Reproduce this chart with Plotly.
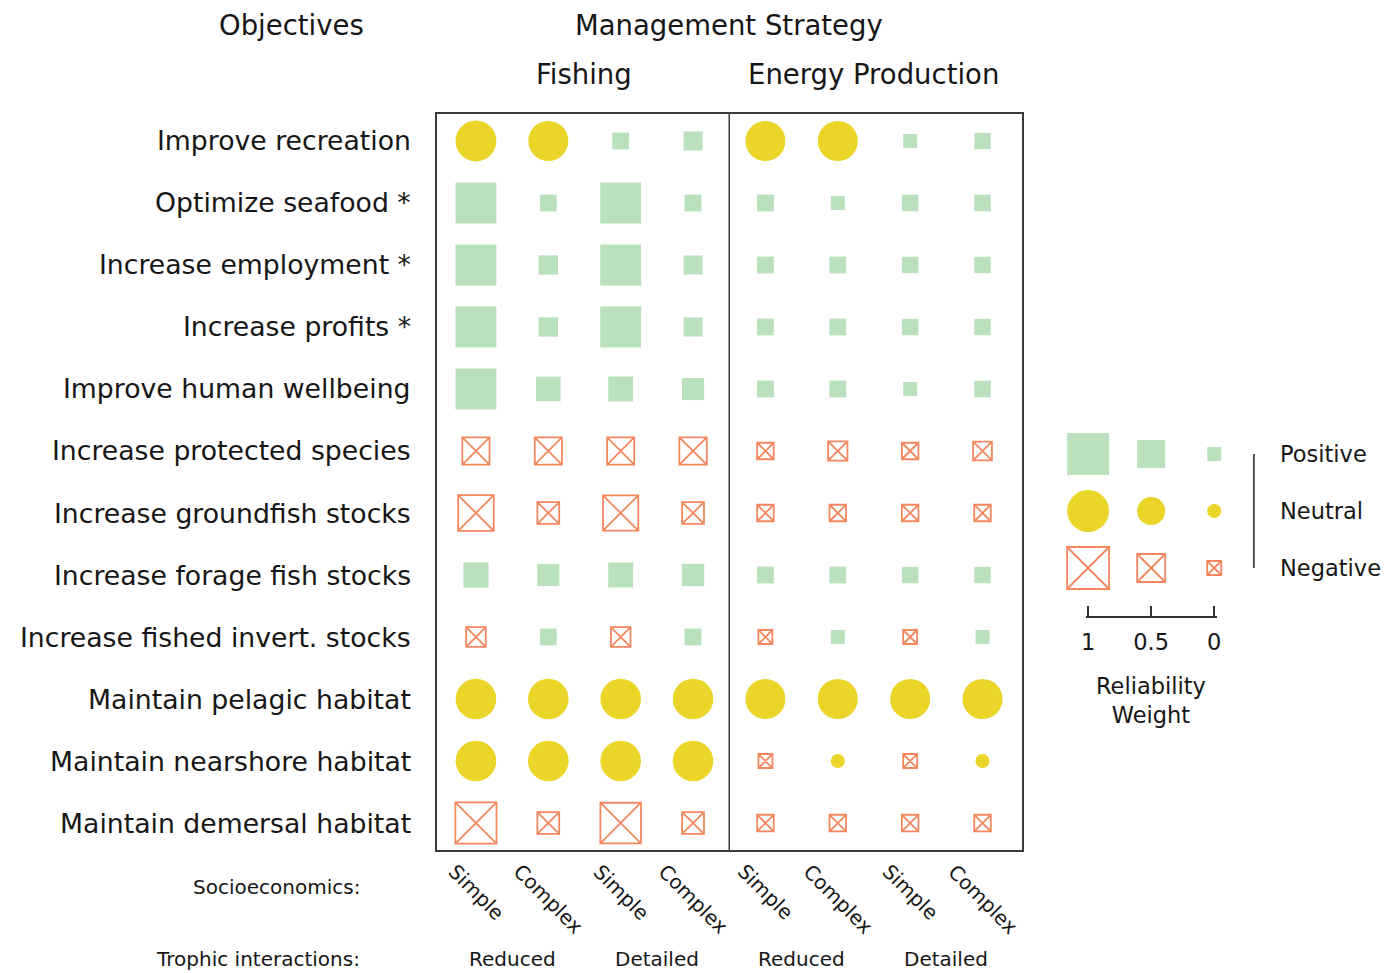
import plotly.graph_objects as go

# ---------------- data ----------------
objectives = [
    "Improve recreation",
    "Optimize seafood *",
    "Increase employment *",
    "Increase profits *",
    "Improve human wellbeing",
    "Increase protected species",
    "Increase groundfish stocks",
    "Increase forage fish stocks",
    "Increase fished invert. stocks",
    "Maintain pelagic habitat",
    "Maintain nearshore habitat",
    "Maintain demersal habitat",
]
strategies = ["Fishing", "Energy Production"]
socioeconomics = ["Simple", "Complex", "Simple", "Complex",
                  "Simple", "Complex", "Simple", "Complex"]
trophic = ["Reduced", "Detailed", "Reduced", "Detailed"]

# P = positive, N = neutral, X = negative
effects = [
    "NNPP" + "NNPP",
    "PPPP" + "PPPP",
    "PPPP" + "PPPP",
    "PPPP" + "PPPP",
    "PPPP" + "PPPP",
    "XXXX" + "XXXX",
    "XXXX" + "XXXX",
    "PPPP" + "PPPP",
    "XPXP" + "XPXP",
    "NNNN" + "NNNN",
    "NNNN" + "XNXN",
    "XXXX" + "XXXX",
]
# reliability weight of each cell (0..1)
weights = [
    [0.96, 0.93, 0.10, 0.18, 0.93, 0.93, 0.00, 0.08],
    [0.96, 0.10, 0.96, 0.10, 0.10, 0.00, 0.09, 0.09],
    [0.96, 0.19, 0.96, 0.18, 0.10, 0.10, 0.09, 0.09],
    [0.96, 0.19, 0.96, 0.18, 0.10, 0.10, 0.09, 0.09],
    [0.96, 0.38, 0.39, 0.29, 0.10, 0.10, 0.00, 0.09],
    [0.47, 0.47, 0.47, 0.48, 0.09, 0.19, 0.09, 0.17],
    [0.77, 0.28, 0.76, 0.28, 0.09, 0.09, 0.09, 0.09],
    [0.40, 0.29, 0.39, 0.30, 0.10, 0.10, 0.09, 0.09],
    [0.20, 0.10, 0.20, 0.10, 0.00, 0.00, 0.00, 0.00],
    [0.95, 0.95, 0.95, 0.95, 0.93, 0.93, 0.93, 0.93],
    [0.95, 0.95, 0.95, 0.95, 0.00, 0.00, 0.00, 0.00],
    [0.97, 0.28, 0.95, 0.28, 0.09, 0.09, 0.09, 0.09],
]
legend_effects = ["Positive", "Neutral", "Negative"]
legend_weights = [1, 0.5, 0]

# ---------------- styling ----------------
W, H = 1386, 973
FONT = "DejaVu Sans"
TXT = "#161616"
GREEN = "#BBE0BE"
YELLOW = "#EBD528"
SALMON = "#F5875F"
MIN_S, SPAN_S = 14, 28


def size_of(w):
    return MIN_S + SPAN_S * w


def px_x(p):
    return p / W


def px_y(p):
    return 1 - p / H


styles = {
    "P": dict(symbol="square", color=GREEN, line=dict(width=0)),
    "N": dict(symbol="circle", color=YELLOW, line=dict(width=0)),
    "X": dict(symbol="square-x-open", color=SALMON, line=dict(width=1.8, color=SALMON)),
}

fig = go.Figure()

# main grid
for code in ["P", "N", "X"]:
    xs, ys, ss = [], [], []
    for r, row in enumerate(effects):
        for c, e in enumerate(row):
            if e == code:
                xs.append(c + 1)
                ys.append(r + 1)
                ss.append(size_of(weights[r][c]))
    st = styles[code]
    fig.add_trace(go.Scatter(
        x=xs, y=ys, mode="markers", xaxis="x", yaxis="y",
        marker=dict(symbol=st["symbol"], size=ss, color=st["color"], line=st["line"],
                    opacity=1),
        cliponaxis=False, hoverinfo="skip", showlegend=False))

# legend grid
leg_codes = {"Positive": "P", "Neutral": "N", "Negative": "X"}
for i, name in enumerate(legend_effects):
    st = styles[leg_codes[name]]
    fig.add_trace(go.Scatter(
        x=legend_weights, y=[i] * len(legend_weights), mode="markers",
        xaxis="x2", yaxis="y2",
        marker=dict(symbol=st["symbol"], size=[size_of(w) for w in legend_weights],
                    color=st["color"], line=st["line"], opacity=1),
        cliponaxis=False, hoverinfo="skip", showlegend=False))

ann = []
# row labels
for r, name in enumerate(objectives):
    ann.append(dict(text=name, xref="paper", x=px_x(411), xanchor="right",
                    yref="y", y=r + 1, yanchor="middle", showarrow=False,
                    font=dict(size=26.7, family=FONT, color=TXT)))
# headers
ann.append(dict(text="Objectives", xref="paper", x=px_x(289), xanchor="center",
                yref="paper", y=px_y(25), yanchor="middle", showarrow=False,
                font=dict(size=27.5, family=FONT, color=TXT)))
ann.append(dict(text="Management Strategy", xref="x", x=4.5, xanchor="center",
                yref="paper", y=px_y(25), yanchor="middle", showarrow=False,
                font=dict(size=27.5, family=FONT, color=TXT)))
for i, s in enumerate(strategies):
    ann.append(dict(text=s, xref="x", x=2.5 + 4 * i, xanchor="center",
                    yref="paper", y=px_y(74), yanchor="middle", showarrow=False,
                    font=dict(size=27.5, family=FONT, color=TXT)))
# bottom labels
for c, s in enumerate(socioeconomics):
    ann.append(dict(text=s, xref="x", x=c + 1, xanchor="center",
                    yref="paper", y=px_y(857), yanchor="top", textangle=45,
                    showarrow=False, font=dict(size=20, family=FONT, color=TXT)))
for i, t in enumerate(trophic):
    ann.append(dict(text=t, xref="x", x=1.5 + 2 * i, xanchor="center",
                    yref="paper", y=px_y(959), yanchor="middle",
                    showarrow=False, font=dict(size=20, family=FONT, color=TXT)))
ann.append(dict(text="Socioeconomics:", xref="paper", x=px_x(360), xanchor="right",
                yref="paper", y=px_y(887), yanchor="middle", showarrow=False,
                font=dict(size=20, family=FONT, color=TXT)))
ann.append(dict(text="Trophic interactions:", xref="paper", x=px_x(360), xanchor="right",
                yref="paper", y=px_y(959), yanchor="middle", showarrow=False,
                font=dict(size=20, family=FONT, color=TXT)))
# legend labels
for i, name in enumerate(legend_effects):
    ann.append(dict(text=name, xref="paper", x=px_x(1282), xanchor="left",
                    yref="y2", y=i, yanchor="middle", showarrow=False,
                    font=dict(size=22.5, family=FONT, color=TXT)))
ann.append(dict(text="Reliability<br>Weight", xref="x2", x=0.5, xanchor="center",
                yref="paper", y=px_y(700), yanchor="middle", showarrow=False,
                align="center", font=dict(size=22.5, family=FONT, color=TXT)))

shapes = [
    dict(type="line", xref="x", x0=4.5, x1=4.5, yref="y domain", y0=0, y1=1,
         line=dict(color="#3a3a3a", width=1.5)),
    dict(type="line", xref="paper", x0=px_x(1258), x1=px_x(1258), yref="y2", y0=0, y1=2,
         line=dict(color="#222", width=1.5)),
]

axis_common = dict(showgrid=False, zeroline=False, showticklabels=False, ticks="",
                   showline=True, mirror=True, linecolor="#3a3a3a", linewidth=1.5)

# legend weight axis: 1 at 1091px, 0 at 1218px, tiny pad so end ticks are drawn
PAD = 0.02
U = 1218 - 1091
fig.update_layout(
    width=W, height=H,
    margin=dict(l=0, r=0, t=0, b=0),
    paper_bgcolor="white", plot_bgcolor="white",
    showlegend=False,
    xaxis=dict(domain=[px_x(435), px_x(1024)], range=[0.46, 8.54], anchor="y", **axis_common),
    yaxis=dict(domain=[px_y(850), px_y(114)], range=[12.435, 0.565], anchor="x", **axis_common),
    xaxis2=dict(domain=[px_x(1091 - PAD * U), px_x(1218 + PAD * U)],
                range=[1 + PAD, -PAD], anchor="y2",
                showgrid=False, zeroline=False, showline=True, linecolor="#333",
                linewidth=1.5, ticks="inside", ticklen=10, tickwidth=1.5, tickcolor="#333",
                tickvals=legend_weights, ticktext=[str(w) for w in legend_weights],
                ticklabelstandoff=5,
                tickfont=dict(size=22.5, family=FONT, color=TXT)),
    yaxis2=dict(domain=[px_y(616), px_y(426)], range=[2.842, -0.491], anchor="x2",
                visible=False),
    annotations=ann,
    shapes=shapes,
    font=dict(family=FONT, color=TXT),
)

fig.write_html(
    "out.html",
    config={"displayModeBar": False},
    post_script="document.body.style.margin='0px';document.body.style.overflow='hidden';",
)
